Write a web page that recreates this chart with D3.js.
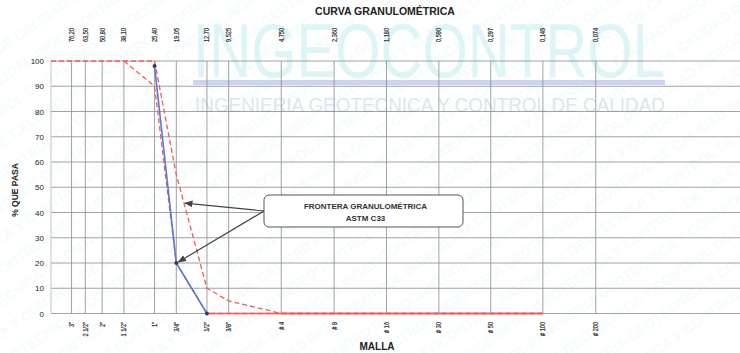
<!DOCTYPE html>
<html>
<head>
<meta charset="utf-8">
<script src="https://cdn.jsdelivr.net/npm/d3@7"></script>
<style>
  html, body { margin: 0; padding: 0; background: #ffffff; }
  svg { display: block; }
  text { font-family: "Liberation Sans", Arial, sans-serif; }
</style>
</head>
<body>
<svg id="chart" width="740" height="353"></svg>
<script>
// Sieve openings (mm) and their names
const sieveSizes = [76.2, 63.5, 50.8, 38.1, 25.4, 19.05, 12.7, 9.525, 4.75, 2.36, 1.18, 0.59, 0.297, 0.149, 0.074];
const sizeLabels = ["76,20", "63,50", "50,80", "38,10", "25,40", "19,05", "12,70", "9,525", "4,750", "2,360", "1,180", "0,590", "0,297", "0,149", "0,074"];
const sieveNames = ["3\"", "2 1/2\"", "2\"", "1 1/2\"", "1\"", "3/4\"", "1/2\"", "3/8\"", "# 4", "# 8", "# 16", "# 30", "# 50", "# 100", "# 200"];

// ASTM C33 grading band (size No. 5)
const limitSizes = [100, 76.2, 63.5, 50.8, 38.1, 25.4, 19.05, 12.7, 9.525, 4.75, 2.36, 1.18, 0.59, 0.297, 0.149];
const upperLimit = [100, 100, 100, 100, 100, 100, 55, 10, 5, 0, 0, 0, 0, 0, 0];
const lowerLimit = [null, null, null, null, 100, 90, 20, 0, 0, 0, 0, 0, 0, 0, 0];

// Sample gradation
const sampleSizes = [25.4, 19.05, 12.7];
const samplePassing = [98, 20, 0];

const yTicks = [0, 10, 20, 30, 40, 50, 60, 70, 80, 90, 100];

const W = 740, H = 353;
const svg = d3.select("#chart");

const x = d3.scaleLog().domain([100, 0.01]).range([51, 747]);
const y = d3.scaleLinear().domain([0, 100]).range([313.5, 61]);

// --- background watermark -------------------------------------------------
const wm = svg.append("g").attr("class", "watermark");
const diag = wm.append("g").attr("transform", "translate(370,176) rotate(-35)");
const motto = "INGEOCONTROL INGENIERIA GEOTECNICA Y CONTROL DE CALIDAD ";
for (let i = -12; i <= 12; i++) {
  diag.append("text")
    .attr("x", -620 + (i % 2) * 60)
    .attr("y", i * 26)
    .attr("font-size", 14)
    .attr("font-weight", "bold")
    .attr("fill", "#d6f2f5")
    .attr("opacity", 0.22)
    .text(motto.repeat(3));
}
wm.append("text")
  .attr("x", 193).attr("y", 77)
  .attr("font-family", "'Open Sans', sans-serif")
  .attr("font-size", 76)
  .attr("textLength", 472)
  .attr("lengthAdjust", "spacingAndGlyphs")
  .attr("fill", "#def5f8")
  .text("INGEOCONTROL");
wm.append("rect")
  .attr("x", 193).attr("y", 80).attr("width", 472).attr("height", 5)
  .attr("fill", "#cbd5f0");
wm.append("text")
  .attr("x", 195).attr("y", 112)
  .attr("font-family", "'Open Sans', sans-serif")
  .attr("font-size", 20)
  .attr("textLength", 470)
  .attr("lengthAdjust", "spacingAndGlyphs")
  .attr("fill", "#dbe7ec")
  .text("INGENIERIA GEOTECNICA Y CONTROL DE CALIDAD");

// --- grid -----------------------------------------------------------------
const grid = svg.append("g").attr("stroke", "#8c8c8c").attr("stroke-width", 0.8);
grid.selectAll("line.h").data(yTicks).join("line")
  .attr("x1", x(100)).attr("x2", W)
  .attr("y1", d => y(d)).attr("y2", d => y(d));
grid.selectAll("line.v").data(sieveSizes).join("line")
  .attr("x1", d => x(d)).attr("x2", d => x(d))
  .attr("y1", y(0)).attr("y2", y(100));
grid.append("line")
  .attr("x1", x(100)).attr("x2", x(100))
  .attr("y1", y(0)).attr("y2", y(100))
  .attr("stroke", "#b5b5b5");

// --- axes labels ----------------------------------------------------------
const yAxis = d3.axisLeft(y).tickValues(yTicks).tickSize(0).tickPadding(0);
svg.append("g")
  .attr("transform", `translate(44,0)`)
  .call(yAxis)
  .call(g => g.select(".domain").remove())
  .call(g => g.selectAll("text")
    .attr("font-family", "'Liberation Sans', Arial, sans-serif")
    .attr("font-size", 8).attr("fill", "#222"));

// opening sizes across the top
svg.append("g").selectAll("text").data(sieveSizes).join("text")
  .attr("transform", d => `translate(${x(d)},42) rotate(-90) scale(0.8,1)`)
  .attr("dy", "0.35em")
  .attr("text-anchor", "start")
  .attr("font-size", 7)
  .attr("fill", "#222").attr("stroke", "#333").attr("stroke-width", 0.2)
  .text((d, i) => sizeLabels[i]);

// sieve names along the bottom
svg.append("g").selectAll("text").data(sieveSizes).join("text")
  .attr("transform", d => `translate(${x(d)},322) rotate(-90) scale(0.8,1)`)
  .attr("dy", "0.35em")
  .attr("text-anchor", "end")
  .attr("font-size", 7)
  .attr("fill", "#222").attr("stroke", "#333").attr("stroke-width", 0.2)
  .text((d, i) => sieveNames[i]);

svg.append("text")
  .attr("x", 385).attr("y", 15)
  .attr("text-anchor", "middle")
  .attr("font-size", 10.5).attr("font-weight", "bold").attr("fill", "#222")
  .text("CURVA GRANULOMÉTRICA");

svg.append("text")
  .attr("transform", "translate(18,190) rotate(-90)")
  .attr("text-anchor", "middle")
  .attr("font-size", 8.5).attr("font-weight", "bold").attr("fill", "#222")
  .text("% QUE PASA");

svg.append("text")
  .attr("x", 377).attr("y", 350)
  .attr("text-anchor", "middle")
  .attr("font-size", 10).attr("font-weight", "bold").attr("fill", "#222")
  .text("MALLA");

// --- grading limits -------------------------------------------------------
const limitColor = "#f25c5c";
const line = d3.line()
  .defined(d => d[1] !== null)
  .x(d => x(d[0])).y(d => y(d[1]));

function drawLimit(values) {
  const pts = limitSizes.map((s, i) => [s, values[i]]);
  svg.append("path")
    .attr("d", line(pts))
    .attr("fill", "none")
    .attr("stroke", limitColor)
    .attr("stroke-width", 1.3)
    .attr("stroke-dasharray", "5,3");
  // stretches where the band sits on zero read as a continuous line
  const zeroRun = pts.filter(p => p[1] === 0);
  if (zeroRun.length > 1) {
    svg.append("path")
      .attr("d", line(zeroRun))
      .attr("fill", "none")
      .attr("stroke", limitColor)
      .attr("stroke-width", 1.3);
  }
}
drawLimit(upperLimit);
drawLimit(lowerLimit);

// --- sample curve ---------------------------------------------------------
const samplePts = sampleSizes.map((s, i) => [s, samplePassing[i]]);
svg.append("path")
  .attr("d", line(samplePts))
  .attr("fill", "none")
  .attr("stroke", "#5a78d6")
  .attr("stroke-width", 1.6);
svg.selectAll("circle.pt").data(samplePts).join("circle")
  .attr("cx", d => x(d[0])).attr("cy", d => y(d[1]))
  .attr("r", 2).attr("fill", "#343b5c");

// --- callout --------------------------------------------------------------
const defs = svg.append("defs");
defs.append("marker")
  .attr("id", "arrow").attr("viewBox", "0 0 10 10")
  .attr("refX", 9).attr("refY", 5)
  .attr("markerWidth", 7).attr("markerHeight", 7)
  .attr("orient", "auto-start-reverse")
  .append("path").attr("d", "M0,1 L10,5 L0,9 z").attr("fill", "#444");

const box = { x: 264, y: 195, w: 199, h: 32 };
const origin = [box.x, 211];
// target on the upper limit between 3/4" and 1/2"
const ua = [x(19.05), y(55)], ub = [x(12.7), y(10)];
const t = 0.25;
const upperTarget = [ua[0] + (ub[0] - ua[0]) * t, ua[1] + (ub[1] - ua[1]) * t];
const sampleTarget = [x(19.05) + 1, y(20) - 1];
[upperTarget, sampleTarget].forEach(p => {
  svg.append("line")
    .attr("x1", origin[0]).attr("y1", origin[1])
    .attr("x2", p[0] + 1).attr("y2", p[1])
    .attr("stroke", "#444").attr("stroke-width", 1.2)
    .attr("marker-end", "url(#arrow)");
});

svg.append("rect")
  .attr("x", box.x).attr("y", box.y).attr("width", box.w).attr("height", box.h)
  .attr("rx", 5).attr("fill", "#fff")
  .attr("stroke", "#555").attr("stroke-width", 1);
svg.append("text")
  .attr("x", box.x + box.w / 2 + 2).attr("y", 209)
  .attr("text-anchor", "middle")
  .attr("font-size", 8).attr("font-weight", "bold").attr("fill", "#333")
  .text("FRONTERA GRANULOMÉTRICA");
svg.append("text")
  .attr("x", box.x + box.w / 2 + 2).attr("y", 220.5)
  .attr("text-anchor", "middle")
  .attr("font-size", 8).attr("font-weight", "bold").attr("fill", "#333")
  .text("ASTM C33");
</script>
</body>
</html>
